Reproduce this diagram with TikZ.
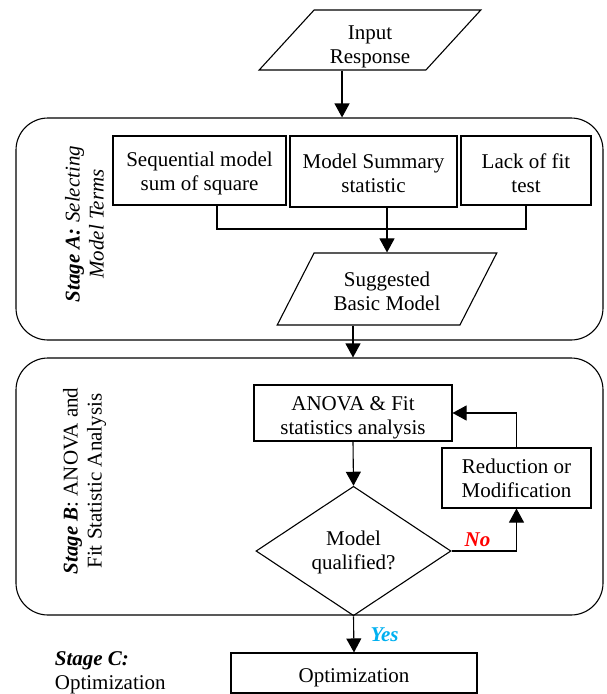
\documentclass[tikz,border=0pt]{standalone}
\usepackage{fontspec}
\setmainfont{Liberation Serif}
\usetikzlibrary{shapes.geometric,arrows.meta}
\definecolor{nored}{RGB}{255,0,0}
\definecolor{yesblue}{RGB}{0,176,240}
\newcommand\lowstrut[1]{\rule{0pt}{#1}}
\begin{document}
\begin{tikzpicture}[x=1pt,y=-1pt, line width=1.1pt,
  every node/.style={font=\fontsize{21}{24}\selectfont, align=center},
  box/.style={draw, rectangle, inner sep=0pt},
  para/.style={draw, trapezium, trapezium stretches=true, inner sep=0pt,
               trapezium left angle=55, trapezium right angle=125},
  stagebox/.style={draw, rectangle, rounded corners=32pt, inner sep=0pt},
  dia/.style={draw, diamond, inner sep=0pt},
  arr/.style={-{Triangle[length=14pt,width=15pt]}},
  lbl/.style={font=\fontsize{21}{24}\selectfont\bfseries\itshape}]
\useasboundingbox (0,0) rectangle (606,694);

% stage frames
\node[stagebox, minimum width=587pt, minimum height=222pt] (stageA) at (309.5,229) {};
\node[stagebox, minimum width=587pt, minimum height=257pt] (stageB) at (309.5,486.5) {};

% stage labels
\node[rotate=90] (labA) at (84.5,224) {\textbf{\textit{Stage A:}} \textit{Selecting}\\\textit{Model Terms}};
\node[rotate=90] (labB) at (84.5,481) {\textbf{\textit{Stage B}}: ANOVA and\\Fit Statistic Analysis};
\node[anchor=west, align=left] (labC) at (51,673) {\textbf{\textit{Stage C:}}\\Optimization};

% input
\node[para, minimum width=222pt, minimum height=60pt] (input) at (370,40) {\lowstrut{28pt}Input\\Response};

% stage A boxes
\node[box, minimum width=173pt, minimum height=69pt] (seq) at (199.5,170.5) {\lowstrut{20pt}Sequential model\\sum of square};
\node[box, minimum width=167pt, minimum height=71pt] (msum) at (373.5,171.5) {\lowstrut{19pt}Model Summary\\statistic};
\node[box, minimum width=130pt, minimum height=69pt] (lof) at (526,170.5) {\lowstrut{20pt}Lack of fit\\test};
\node[para, minimum width=220pt, minimum height=72pt, trapezium left angle=58.6, trapezium right angle=121.4] (basic) at (387,289) {\lowstrut{20pt}Suggested\\Basic Model};

\coordinate (j1) at (217,229);
\coordinate (j2) at (526,229);

% stage B boxes
\node[box, minimum width=198pt, minimum height=56pt] (anova) at (353,413) {\lowstrut{24pt}ANOVA \& Fit\\statistics analysis};
\node[box, minimum width=149pt, minimum height=60pt] (red) at (516.5,478) {\lowstrut{16pt}Reduction or\\Modification};
\node[dia, minimum width=195pt, minimum height=128pt] (qual) at (353.5,551) {\lowstrut{17pt}Model\\qualified?};

% stage C
\node[box, minimum width=246pt, minimum height=40pt] (opt) at (354,673) {\lowstrut{23pt}Optimization};

% connectors
\draw[arr] (input.bottom side) -- (input.bottom side |- stageA.north);
\draw (seq.south -| j1) -- (j1) -- (j2) -- (lof.south);
\draw[arr] (basic.north |- msum.south) -- (basic.north);
\draw[arr] (anova.north |- basic.south) -- (anova.north |- stageB.north);
\draw[arr] (anova.south) -- (qual.north);
\draw[arr] (red.north) |- (anova.east);
\draw[arr] (qual.east) -| node[lbl, text=nored, pos=0.2, above] {No} (red.south);
\draw[arr] (qual.south) -- node[lbl, text=yesblue, right=13pt, pos=0.5] {Yes} (opt.north);
\end{tikzpicture}
\end{document}
